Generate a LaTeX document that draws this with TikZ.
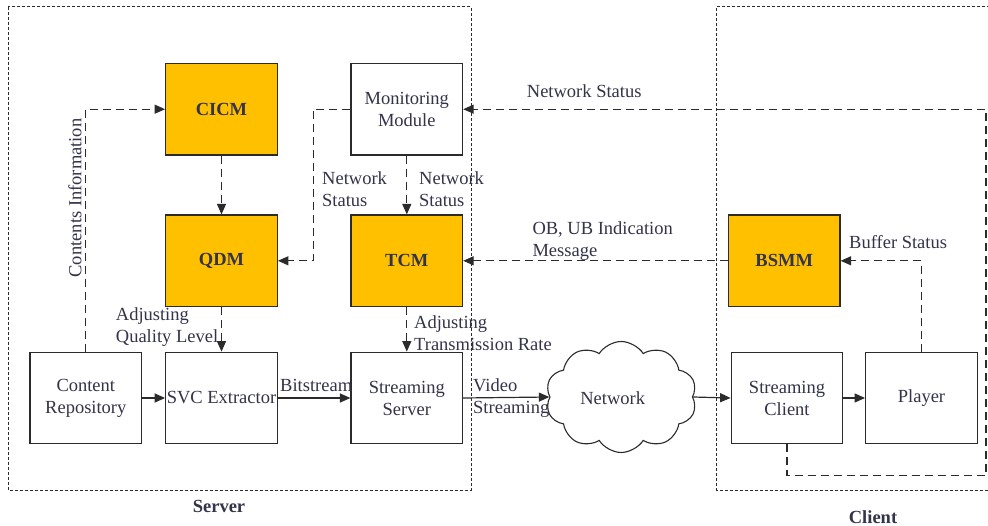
\documentclass[tikz,border=0pt]{standalone}
\usepackage{fontspec}
\setmainfont{Liberation Serif}
\usetikzlibrary{arrows.meta,shapes.symbols}
\definecolor{modfill}{HTML}{FFC000}
\definecolor{ink}{HTML}{2B2B2B}
\definecolor{txt}{HTML}{33334A}

\begin{document}
\begin{tikzpicture}[x=1pt,y=-1pt,
  font=\fontsize{18.5}{22}\selectfont, text=txt,
  box/.style={draw=ink, line width=1.2pt, fill=white, minimum width=111.6pt,
    minimum height=91.6pt, inner sep=0pt, align=center},
  module/.style={box, fill=modfill, font=\fontsize{18.5}{22}\selectfont\bfseries},
  region/.style={draw=ink, line width=0.9pt, dash pattern=on 3pt off 2pt},
  flow/.style={draw=ink, line width=1.2pt, -{Triangle[length=10.5pt,width=9pt]}},
  ctrl/.style={flow, dash pattern=on 8pt off 5pt},
  lbl/.style={anchor=west, align=left, inner sep=0pt},
  title/.style={font=\fontsize{18.5}{22}\selectfont\bfseries, inner sep=0pt},
]
\useasboundingbox (0,0) rectangle (988,526);

% server and client regions
\draw[region] (8.3,6.7) rectangle (471,490);
\draw[region] (990,6.7) -- (716.7,6.7) -- (716.7,490) -- (990,490);
\node[title] (srvlbl) at (219,506) {Server};
\node[title] (clilbl) at (873,517) {Client};

% server side modules
\node[module] (cicm) at (221.5,109.2) {CICM};
\node[box]    (mon)  at (406.8,109.2) {Monitoring\\Module};
\node[module] (qdm)  at (221.5,260.8) {QDM};
\node[module] (tcm)  at (406.8,260.8) {TCM};
\node[box]    (repo) at (85.8,398) {Content\\Repository};
\node[box]    (svc)  at (221.5,398) {SVC Extractor};
\node[box]    (ss)   at (406.8,398) {Streaming\\Server};

% network
\node[cloud, draw=ink, line width=1.1pt, fill=white, cloud puffs=10,
  cloud puff arc=115, aspect=1.36, minimum width=151pt, minimum height=111pt,
  inner sep=0pt] (net) at (621.2,397) {};
\node (netlbl) at (612.7,398) {Network};

% client side modules
\node[module] (bsmm)   at (784.2,260.8) {BSMM};
\node[box]    (sc)     at (787,398) {Streaming\\Client};
\node[box]    (player) at (921.5,398) {Player};

% data path
\draw[flow] (repo.east) -- (svc.west);
\draw[flow] (svc.east) -- (ss.west);
\draw[flow] (ss.east) -- (net.west);
\draw[flow] (net.east) -- (sc.west);
\draw[flow] (sc.east) -- (player.west);

% control paths
\draw[ctrl] (repo.north) |- (cicm.west);
\draw[ctrl] (cicm.south) -- (qdm.north);
\draw[ctrl] (mon.west) -- ++(-37,0) |- (qdm.east);
\draw[ctrl] (mon.south) -- (tcm.north);
\draw[ctrl] (qdm.south) -- (svc.north);
\draw[ctrl] (tcm.south) -- (ss.north);
\draw[ctrl] (bsmm.west) -- (tcm.east);
\draw[ctrl] (player.north) |- (bsmm.east);
\coordinate (loopcorner) at (986,475.7);
\draw[ctrl] (sc.south) |- (loopcorner) |- (mon.east);

% labels
\node[lbl, rotate=90, anchor=center] (cinfo) at (75,198) {Contents Information};
\node[lbl] (ns1) at (322,189) {Network\\Status};
\node[lbl] (ns2) at (419,189) {Network\\Status};
\node[lbl] (ns3) at (526.7,91) {Network Status};
\node[lbl] (obub) at (532.3,241.5) {OB, UB Indication\\Message};
\node[lbl] (bufs) at (849,242) {Buffer Status};
\node[lbl] (aql) at (115.7,327.5) {Adjusting\\Quality Level};
\node[lbl] (atr) at (414,333.5) {Adjusting\\Transmission Rate};
\node[lbl] (bits) at (280,385) {Bitstream};
\node[lbl] (vids) at (473,398.5) {Video\\Streaming};
\end{tikzpicture}
\end{document}
